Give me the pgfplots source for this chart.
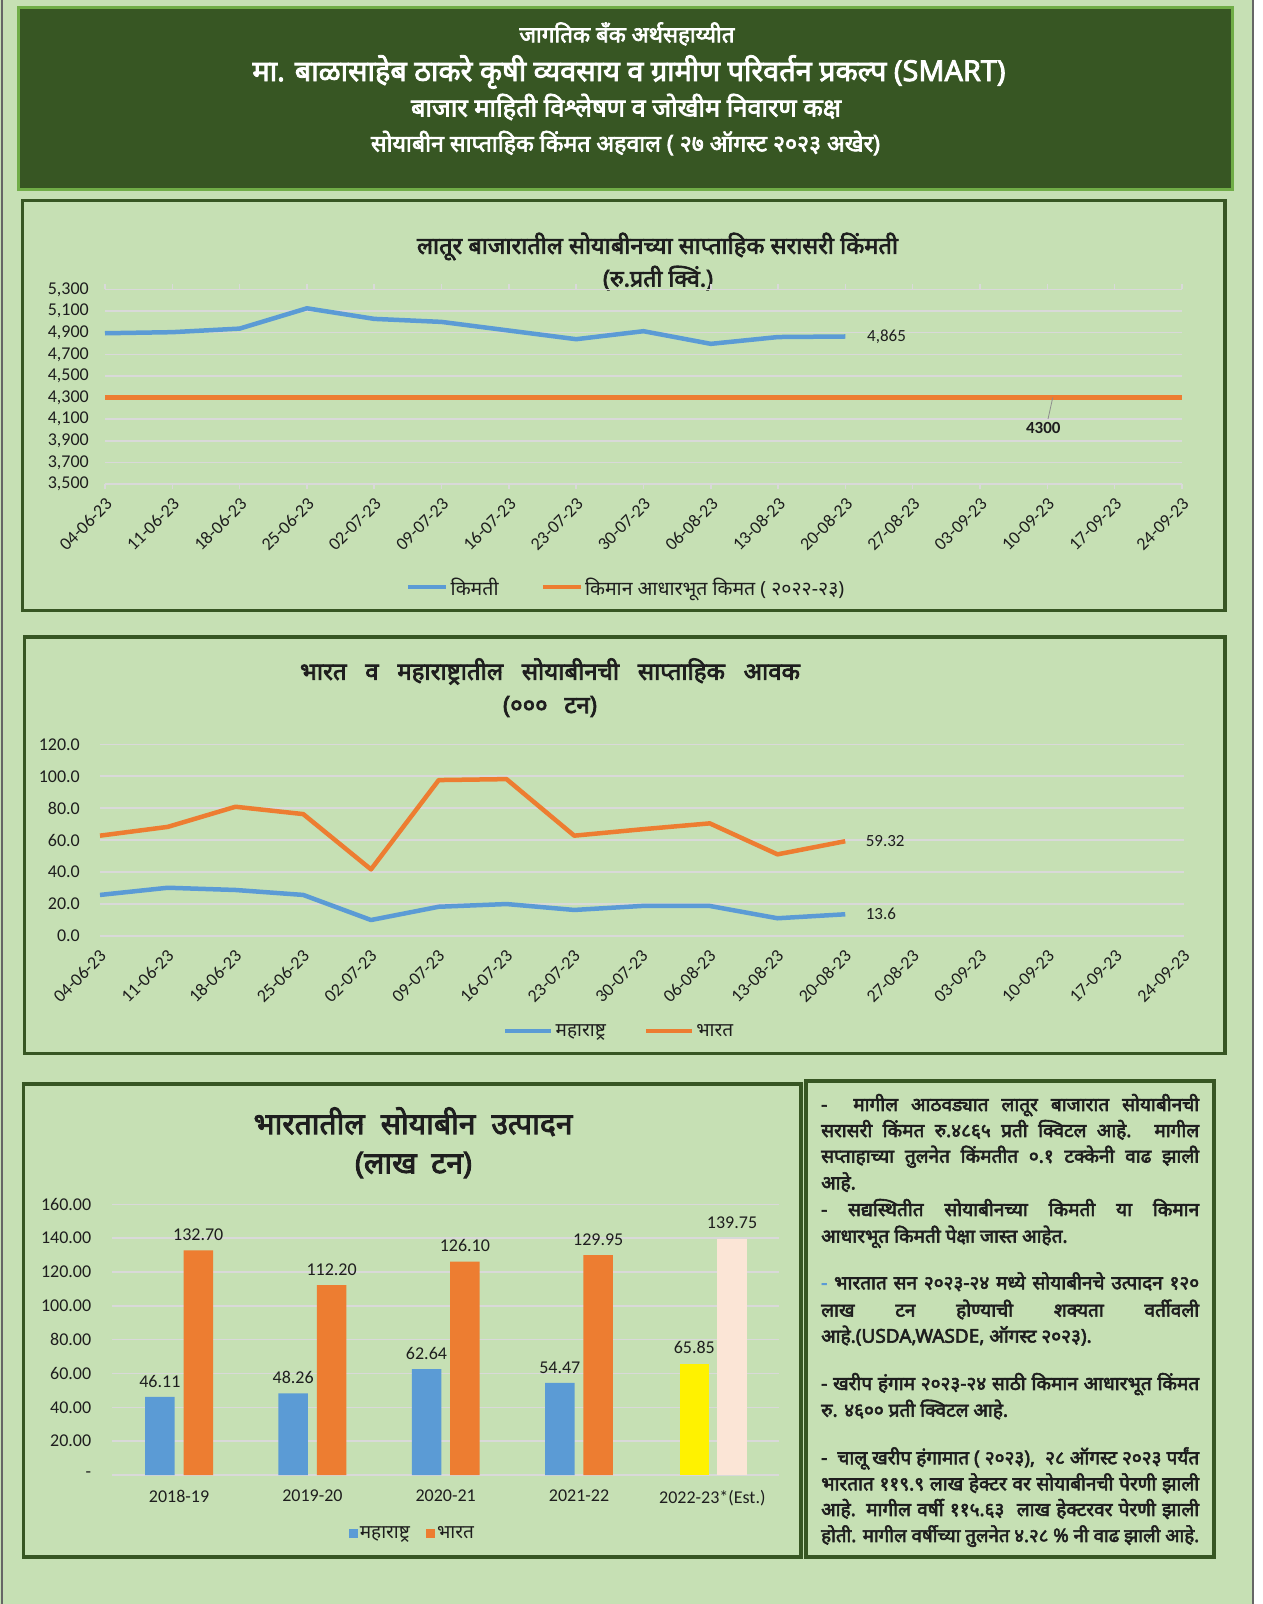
\documentclass[border=0pt]{standalone}
\usepackage{pgfplots}
\pgfplotsset{compat=1.18}
\usepackage{fontspec}
\usepackage{graphicx}
\setmainfont{Carlito}
\newfontfamily\deva[Script=Devanagari]{Noto Sans}
\newfontfamily\devab[Script=Devanagari, FakeBold=3]{Noto Sans}
\newcommand\fs[1]{\fontsize{#1}{#1}\selectfont}
\newcommand\fitw[2]{\resizebox{#1}{!}{#2}}
\newlength\tmpw
\newcommand\sline[2]{\settowidth\tmpw{#2}\ifdim\tmpw>#1\relax\resizebox{#1}{!}{#2}\else\makebox[#1][s]{#2}\fi}
\definecolor{bg}{HTML}{C6E0B4}
\definecolor{dkg}{HTML}{375623}
\definecolor{hdrborder}{HTML}{70AD47}
\definecolor{xlblue}{HTML}{5B9BD5}
\definecolor{xlorange}{HTML}{ED7D31}
\definecolor{pale}{HTML}{FBE5D6}
\definecolor{gridc}{HTML}{D9D9D9}
\definecolor{txt}{HTML}{1E1E1E}
\begin{document}
\begin{tikzpicture}
\useasboundingbox (0pt,0pt) rectangle (1263pt,1604pt);
\fill[white] (0pt,0pt) rectangle (1263pt,1604pt);
\fill[bg] (0pt,0pt) rectangle (1253pt,1604pt);
\draw[black!60, line width=1.5pt] (2pt,0pt) -- (2pt,1604pt);
\draw[black!60, line width=1.5pt] (1253pt,0pt) -- (1253pt,1604pt);
% header
\filldraw[fill=dkg, draw=hdrborder, line width=3pt] (18.5pt,1596pt) rectangle (1232pt,1414pt);
\node[text=white, inner sep=0pt] at (627pt,1570pt) {\fitw{215pt}{\devab जागतिक बँक अर्थसहाय्यीत}};
\node[text=white, inner sep=0pt] at (629pt,1532pt) {\fitw{753pt}{\devab मा. बाळासाहेब ठाकरे कृषी व्यवसाय व ग्रामीण परिवर्तन प्रकल्प (SMART)}};
\node[text=white, inner sep=0pt] at (626pt,1497pt) {\fitw{430pt}{\devab बाजार माहिती विश्लेषण व जोखीम निवारण कक्ष}};
\node[text=white, inner sep=0pt] at (625.5pt,1461pt) {\fitw{509pt}{\devab सोयाबीन साप्ताहिक किंमत अहवाल ( २७ ऑगस्ट २०२३ अखेर)}};
% panels
\draw[dkg, line width=3.5pt] (22.5pt,1403.5pt) rectangle (1225pt,993.5pt);
\draw[dkg, line width=3.5pt] (24.5pt,967pt) rectangle (1225pt,550.5pt);
\draw[dkg, line width=3.5pt] (23.5pt,520pt) rectangle (801pt,47pt);
\draw[dkg, line width=3.5pt] (806pt,523pt) rectangle (1214pt,47pt);
% titles
\node[inner sep=0pt, text=txt] at (657.5pt,1357.5pt) {\fitw{481pt}{\devab लातूर बाजारातील सोयाबीनच्या साप्ताहिक सरासरी किंमती}};
\node[inner sep=0pt, text=txt] at (658pt,1326pt) {\fitw{110pt}{\devab (रु.प्रती क्विं.)}};
\node[inner sep=0pt, text=txt] at (550pt,932.5pt) {\sline{500pt}{\devab\fs{24}भारत व महाराष्ट्रातील सोयाबीनची साप्ताहिक आवक}};
\node[inner sep=0pt, text=txt] at (550pt,897.5pt) {\sline{94pt}{\devab\fs{24}(००० टन)}};
\node[inner sep=0pt, text=txt] at (413pt,482.3pt) {\sline{319pt}{\devab\fs{30}भारतातील सोयाबीन उत्पादन}};
\node[inner sep=0pt, text=txt] at (413.5pt,439pt) {\sline{117pt}{\devab\fs{30}(लाख टन)}};

% Chart 1
\begin{axis}[
  at={(105pt,1120pt)}, anchor=south west, scale only axis,
  width=1077pt, height=194.5pt,
  xmin=0, xmax=16, ymin=3500, ymax=5300, clip=false,
  axis line style={draw=none},
  ytick={3500,3700,3900,4100,4300,4500,4700,4900,5100,5300},
  yticklabels={{3,500},{3,700},{3,900},{4,100},{4,300},{4,500},{4,700},{4,900},{5,100},{5,300}},
  xtick={0,...,16},
  xticklabels={04-06-23,11-06-23,18-06-23,25-06-23,02-07-23,09-07-23,16-07-23,23-07-23,30-07-23,06-08-23,13-08-23,20-08-23,27-08-23,03-09-23,10-09-23,17-09-23,24-09-23},
  ymajorgrids, grid style={gridc, line width=1.5pt},
  major tick length=5pt, tick align=outside,
  xtick style={draw=gridc, line width=1.5pt}, ytick style={draw=none},
  tick label style={font={\fs{18}}, text=txt},
  yticklabel style={anchor=east, inner sep=0pt},
  yticklabel shift=11pt,
  xticklabel style={xshift=4pt, rotate=45, anchor=east, inner sep=0pt},
  xticklabel shift=12pt,
  legend style={at={(0.484,-0.53)}, anchor=center, draw=none, fill=none, legend columns=2, font={\deva\fs{19.5}}, text=txt, /tikz/every even column/.append style={column sep=40pt}},
  legend image code/.code={\draw[#1, line width=4.5pt] (0pt,0pt) -- (38pt,0pt);},
]
\addplot[xlblue, line width=4.5pt, line join=round] coordinates {
(0,4895) (1,4905) (2,4938) (3,5126) (4,5028) (5,5000) (6,4920) (7,4840) (8,4914) (9,4797) (10,4860) (11,4865)};
\addlegendentry{किमती}
\addplot[xlorange, line width=4.5pt] coordinates {
(0,4300) (1,4300) (2,4300) (3,4300) (4,4300) (5,4300) (6,4300) (7,4300) (8,4300) (9,4300) (10,4300) (11,4300) (12,4300) (13,4300) (14,4300) (15,4300) (16,4300)};
\addlegendentry{किमान आधारभूत किमत ( २०२२-२३)}
\node[anchor=west, inner sep=0pt, font={\fs{17}}, text=txt] at (axis cs:11.32,4865) {4,865};
\draw[black!45, line width=0.8pt] (axis cs:14.08,4300) -- (axis cs:14.01,4102);
\node[inner sep=0pt, font={\bfseries\fs{17}}, text=txt] at (axis cs:13.94,4014) {4300};
\end{axis}

% Chart 2
\begin{axis}[
  at={(100pt,668pt)}, anchor=south west, scale only axis,
  width=1084pt, height=191.7pt,
  xmin=0, xmax=16, ymin=0, ymax=120, clip=false,
  axis line style={draw=none},
  ytick={0,20,40,60,80,100,120},
  yticklabels={0.0,20.0,40.0,60.0,80.0,100.0,120.0},
  xtick={0,...,16},
  xticklabels={04-06-23,11-06-23,18-06-23,25-06-23,02-07-23,09-07-23,16-07-23,23-07-23,30-07-23,06-08-23,13-08-23,20-08-23,27-08-23,03-09-23,10-09-23,17-09-23,24-09-23},
  ymajorgrids, grid style={gridc, line width=1.5pt},
  major tick length=0pt,
  tick label style={font={\fs{18}}, text=txt},
  yticklabel style={anchor=east, inner sep=0pt},
  yticklabel shift=20pt,
  xticklabel style={xshift=3pt, rotate=45, anchor=east, inner sep=0pt},
  xticklabel shift=17pt,
  legend style={at={(0.479,-0.496)}, anchor=center, draw=none, fill=none, legend columns=2, font={\deva\fs{19}}, text=txt, /tikz/every even column/.append style={column sep=36pt}},
  legend image code/.code={\draw[#1, line width=4.5pt] (0pt,0pt) -- (38pt,0pt); \path (0pt,0pt) -- (46pt,0pt);},
]
\addplot[xlblue, line width=4.5pt, line join=round] coordinates {
(0,25.7) (1,30.2) (2,28.8) (3,25.7) (4,10.0) (5,18.3) (6,20.0) (7,16.3) (8,18.8) (9,18.8) (10,11.1) (11,13.6)};
\addlegendentry{महाराष्ट्र}
\addplot[xlorange, line width=4.5pt, line join=round] coordinates {
(0,62.8) (1,68.3) (2,80.9) (3,76.3) (4,41.7) (5,97.6) (6,98.2) (7,62.8) (8,66.8) (9,70.5) (10,51.1) (11,59.32)};
\addlegendentry{भारत}
\node[anchor=west, inner sep=0pt, font={\fs{17}}, text=txt] at (axis cs:11.3,59.32) {59.32};
\node[anchor=west, inner sep=0pt, font={\fs{17}}, text=txt] at (axis cs:11.3,13.6) {13.6};
\end{axis}

% Chart 3
\begin{axis}[
  at={(112.4pt,129pt)}, anchor=south west, scale only axis,
  width=666.6pt, height=270.7pt,
  xmin=-0.5, xmax=4.5, ymin=0, ymax=160, clip=false,
  ybar, bar width=29.5pt,
  axis line style={draw=none},
  ytick={0,20,40,60,80,100,120,140,160},
  yticklabels={-,20.00,40.00,60.00,80.00,100.00,120.00,140.00,160.00},
  xtick={0,...,4},
  xticklabels={2018-19,2019-20,2020-21,2021-22,2022-23*(Est.)},
  ymajorgrids, grid style={gridc, line width=1.5pt},
  major tick length=0pt,
  tick label style={font={\fs{18}}, text=txt},
  yticklabel style={anchor=east, inner sep=0pt},
  yticklabel shift=21pt,
  xticklabel style={inner sep=0pt},
  xticklabel shift=15pt,
  nodes near coords, point meta=explicit symbolic,
  every node near coord/.append style={font={\fs{18}}, text=txt, yshift=6pt},
  legend style={at={(0.45,-0.215)}, anchor=center, draw=none, fill=none, legend columns=2, font={\deva\fs{19}}, text=txt, /tikz/every even column/.append style={column sep=14pt}},
  legend image code/.code={\fill[#1] (0pt,-4.5pt) rectangle (9pt,4.5pt);},
]
\addplot[fill=xlblue, draw=none, bar shift=-19.2pt] coordinates {(0,46.11)[46.11] (1,48.26)[48.26] (2,62.64)[62.64] (3,54.47)[54.47]};
\addlegendentry{महाराष्ट्र}
\addplot[fill=xlorange, draw=none, bar shift=19.2pt] coordinates {(0,132.70)[132.70] (1,112.20)[112.20] (2,126.10)[126.10] (3,129.95)[129.95]};
\addlegendentry{भारत}
\addplot[fill=yellow, draw=none, bar shift=-18pt, forget plot] coordinates {(4,65.85)[65.85]};
\addplot[fill=pale, draw=none, bar shift=19.7pt, forget plot] coordinates {(4,139.75)[139.75]};
\end{axis}

% text box
\begin{scope}[every node/.style={anchor=base west, inner sep=0pt, text=txt, font={\devab\fs{19}}}]
\node at (821pt,493pt) {\sline{378pt}{-\ \ मागील आठवड्यात लातूर बाजारात सोयाबीनची}};
\node at (821pt,467pt) {\sline{378pt}{सरासरी किंमत रु.४८६५ प्रती क्विटल आहे. मागील}};
\node at (821pt,441.3pt) {\sline{378pt}{सप्ताहाच्या तुलनेत किंमतीत ०.१ टक्केनी वाढ झाली}};
\node at (821pt,414.7pt) {आहे.};
\node at (821pt,388pt) {\sline{378pt}{- सद्यस्थितीत सोयाबीनच्या किमती या किमान}};
\node at (821pt,361.3pt) {आधारभूत किमती पेक्षा जास्त आहेत.};
\node at (821pt,314.7pt) {\sline{378pt}{{\color{xlblue}-} भारतात सन २०२३-२४ मध्ये सोयाबीनचे उत्पादन १२०}};
\node at (821pt,287.3pt) {\sline{378pt}{लाख टन होण्याची शक्यता वर्तीवली}};
\node at (821pt,261.3pt) {आहे.(USDA,WASDE, ऑगस्ट २०२३).};
\node at (821pt,214pt) {\sline{378pt}{- खरीप हंगाम २०२३-२४ साठी किमान आधारभूत किंमत}};
\node at (821pt,187.3pt) {रु. ४६०० प्रती क्विटल आहे.};
\node at (821pt,139.7pt) {\sline{378pt}{-\ \ चालू खरीप हंगामात ( २०२३),\ \ २८ ऑगस्ट २०२३ पर्यंत}};
\node at (821pt,113.7pt) {\sline{378pt}{भारतात ११९.९ लाख हेक्टर वर सोयाबीनची पेरणी झाली}};
\node at (821pt,88pt) {\sline{378pt}{आहे. मागील वर्षी ११५.६३\ \ लाख हेक्टरवर पेरणी झाली}};
\node at (821pt,62pt) {\sline{378pt}{होती. मागील वर्षीच्या तुलनेत ४.२८ \% नी वाढ झाली आहे.}};
\end{scope}
\end{tikzpicture}
\end{document}
